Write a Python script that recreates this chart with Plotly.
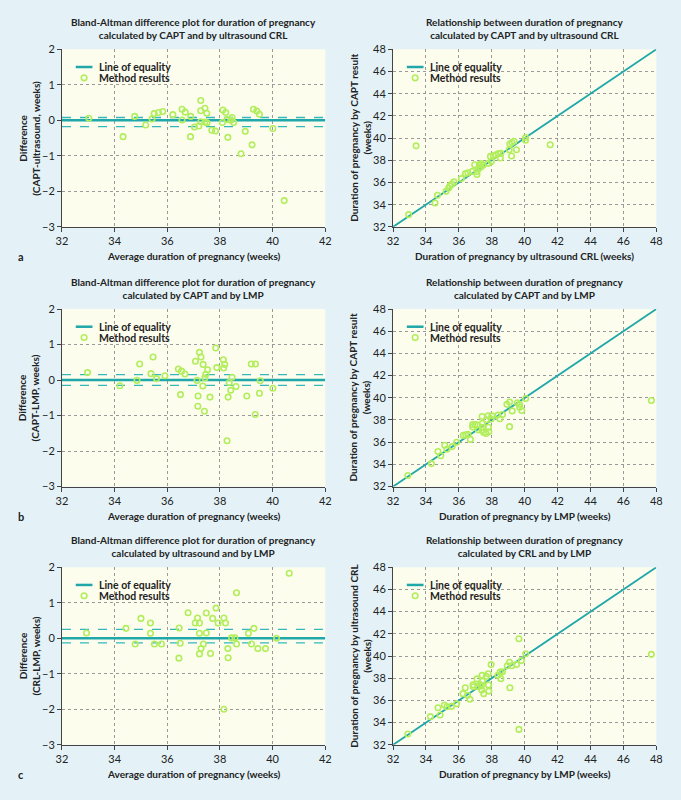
import plotly.graph_objects as go

# ---------------- data ----------------
# Panel a: CAPT vs ultrasound CRL
a_avg = [33.02, 34.32, 34.76, 35.18, 35.42, 35.50, 35.66, 35.83, 36.21, 36.56, 36.56, 36.68, 36.89, 36.88,
         37.03, 37.20, 37.27, 37.27, 37.27, 37.43, 37.43, 37.50, 37.51, 37.69, 37.83, 38.11, 38.22, 38.09,
         38.27, 38.30, 38.46, 38.41, 38.52, 38.80, 38.96, 39.22, 39.27, 39.40, 39.50, 40.01, 40.44]
a_diff = [0.06, -0.46, 0.11, -0.13, 0.04, 0.19, 0.22, 0.25, 0.16, 0.31, 0.01, 0.23, 0.11, -0.46,
          -0.19, -0.16, 0.56, 0.27, -0.04, 0.34, -0.05, 0.20, -0.07, -0.28, -0.30, 0.29, 0.22, -0.06,
          0.02, -0.48, 0.08, 0.00, -0.06, -0.94, -0.31, -0.69, 0.31, 0.26, 0.17, -0.23, -2.26]
a_limits = [0.08, -0.18]

a_crl = [32.95, 33.40, 34.55, 34.70, 35.22, 35.38, 35.45, 35.57, 35.70, 36.15, 36.40, 36.55, 36.82, 36.96,
         37.10, 37.10, 37.20, 37.24, 37.33, 37.37, 37.47, 37.78, 37.92, 37.97, 38.10, 38.25, 38.40, 38.55,
         38.52, 39.06, 39.10, 39.22, 39.35, 39.20, 39.50, 40.05, 40.05, 41.55]
a_capt = [33.10, 39.30, 34.15, 34.85, 35.20, 35.50, 35.70, 35.85, 36.05, 36.35, 36.80, 36.88, 37.00, 37.60,
          36.72, 36.98, 37.25, 37.60, 37.40, 37.70, 37.55, 37.72, 38.35, 37.90, 38.42, 38.50, 38.60, 38.62,
          38.20, 38.94, 39.47, 39.60, 39.72, 38.38, 38.95, 40.05, 39.80, 39.40]

# Panel b: CAPT vs LMP
b_avg = [32.97, 34.20, 34.95, 34.85, 35.38, 35.46, 35.59, 35.91, 36.42, 36.50, 36.54, 36.67, 37.07, 37.13,
         37.17, 37.16, 37.22, 37.28, 37.36, 37.46, 37.43, 37.35, 37.53, 37.41, 37.62, 37.84, 37.88, 38.13,
         38.18, 38.14, 38.46, 38.35, 38.41, 38.61, 38.31, 38.27, 39.02, 39.19, 39.35, 39.34, 39.53, 39.50, 40.01]
b_diff = [0.21, -0.16, 0.45, -0.01, 0.18, 0.65, 0.04, 0.12, 0.31, -0.41, 0.25, 0.17, 0.53, -0.01,
          -0.45, -0.74, 0.78, 0.65, 0.44, 0.16, 0.06, -0.17, 0.29, -0.88, -0.48, 0.90, 0.35, 0.57,
          0.44, 0.34, 0.08, -0.07, -0.29, -0.18, -0.48, -1.71, -0.45, 0.45, 0.45, -0.97, -0.02, -0.37, -0.23]
b_limits = [0.15, -0.15]

b_lmp = [32.90, 34.33, 34.73, 34.90, 35.14, 35.27, 35.59, 35.86, 36.27, 36.41, 36.55, 36.70, 36.84, 36.84,
         36.98, 37.12, 37.18, 37.41, 37.43, 37.45, 37.41, 37.51, 37.65, 37.67, 37.78, 37.80, 37.82, 38.00,
         37.96, 38.37, 38.49, 38.65, 38.92, 39.08, 39.08, 39.24, 39.55, 39.69, 39.69, 39.82, 40.06, 47.70]
b_capt = [33.00, 34.07, 35.16, 34.78, 35.72, 35.37, 35.60, 35.99, 36.61, 36.67, 36.70, 36.25, 37.58, 37.37,
          37.58, 37.55, 37.11, 38.32, 37.70, 37.35, 37.08, 36.87, 36.78, 38.02, 38.38, 37.35, 36.93, 38.38,
          38.08, 38.44, 38.11, 38.50, 39.41, 39.62, 37.40, 38.82, 39.56, 39.41, 39.14, 38.85, 39.94, 39.76]

# Panel c: ultrasound CRL vs LMP
c_avg = [32.93, 34.43, 34.78, 35.00, 35.36, 35.36, 35.51, 35.78, 36.44, 36.45, 36.49, 36.79, 37.06, 37.15,
         37.22, 37.22, 37.22, 37.28, 37.37, 37.48, 37.48, 37.64, 37.72, 37.85, 37.93, 38.15, 38.21, 38.30,
         38.31, 38.15, 38.44, 38.57, 38.63, 38.63, 39.08, 39.20, 39.29, 39.44, 39.73, 40.15, 40.63]
c_diff = [0.15, 0.28, -0.16, 0.56, 0.43, 0.14, -0.16, -0.16, -0.56, 0.29, -0.14, 0.72, 0.43, 0.57,
          0.43, 0.14, -0.44, -0.29, -0.16, 0.71, 0.15, -0.43, 0.56, 0.85, 0.43, 0.57, 0.43, -0.29,
          -0.55, -2.00, 0.01, 0.01, -0.16, 1.28, 0.14, -0.16, 0.28, -0.29, -0.29, 0.00, 1.83]
c_limits = [0.25, -0.13]

c_lmp = [32.90, 34.27, 34.73, 34.86, 35.12, 35.27, 35.55, 35.86, 36.25, 36.39, 36.53, 36.67, 36.86, 36.88,
         37.10, 37.16, 37.29, 37.37, 37.41, 37.43, 37.39, 37.51, 37.67, 37.78, 37.80, 37.82, 37.96, 38.37,
         38.51, 38.55, 38.65, 38.94, 39.08, 39.10, 39.22, 39.51, 39.65, 39.65, 39.80, 40.06, 47.70]
c_crl = [32.98, 34.54, 35.34, 34.69, 35.58, 35.43, 35.46, 35.69, 36.61, 37.14, 36.46, 36.11, 37.40, 37.23,
         37.94, 37.26, 37.43, 37.29, 38.26, 37.73, 36.93, 36.61, 38.17, 38.41, 37.40, 36.84, 39.23, 38.26,
         38.55, 37.96, 38.58, 39.12, 39.44, 37.14, 39.12, 39.23, 41.56, 33.39, 39.59, 40.20, 40.15]

ba_range_x = [32, 42]
ba_range_y = [-3, 2]
ba_ticks_x = [32, 34, 36, 38, 40, 42]
ba_ticks_y = [-3, -2, -1, 0, 1, 2]
rel_range = [32, 48]
rel_ticks = [32, 34, 36, 38, 40, 42, 44, 46, 48]

titles = [
    "Bland-Altman difference plot for duration of pregnancy<br>calculated by CAPT and by ultrasound CRL",
    "Relationship between duration of pregnancy<br>calculated by CAPT and by ultrasound CRL",
    "Bland-Altman difference plot for duration of pregnancy<br>calculated by CAPT and by LMP",
    "Relationship between duration of pregnancy<br>calculated by CAPT and by LMP",
    "Bland-Altman difference plot for duration of pregnancy<br>calculated by ultrasound and by LMP",
    "Relationship between duration of pregnancy<br>calculated by CRL and by LMP",
]
xtitles = [
    "Average duration of pregnancy (weeks)",
    "Duration of pregnancy by ultrasound CRL (weeks)",
    "Average duration of pregnancy (weeks)",
    "Duration of pregnancy by LMP (weeks)",
    "Average duration of pregnancy (weeks)",
    "Duration of pregnancy by LMP (weeks)",
]
ytitles = [
    "Difference<br>(CAPT-ultrasound, weeks)",
    "Duration of pregnancy by CAPT result<br>(weeks)",
    "Difference<br>(CAPT-LMP, weeks)",
    "Duration of pregnancy by CAPT result<br>(weeks)",
    "Difference<br>(CRL-LMP, weeks)",
    "Duration of pregnancy by ultrasound CRL<br>(weeks)",
]
legend_labels = ["Line of equality", "Method results"]
letters = ["a", "b", "c"]

# ---------------- style ----------------
W, H = 681, 800
FONT = "Liberation Sans Narrow, Lato, sans-serif"
TEAL = "#1fa7a9"
DASH = "#36b8bb"
GREEN = "#b2ee5c"
PAPER = "#e4f2f8"
PLOT = "#fdfdee"
GRID = "#9a9a9a"
AXIS = "#444444"
TXT = "#222222"
FS = 10

col_left = [57, 394]
plot_w = 268
row_top = [43, 307, 569.5]
plot_h = 180.5

panels = [
    ("ba", a_avg, a_diff, a_limits),
    ("rel", a_crl, a_capt, None),
    ("ba", b_avg, b_diff, b_limits),
    ("rel", b_lmp, b_capt, None),
    ("ba", c_avg, c_diff, c_limits),
    ("rel", c_lmp, c_crl, None),
]

fig = go.Figure()
annotations = []
shapes = []
layout_axes = {}


def px(xp):
    return xp / W


def py(yp):
    return 1 - yp / H


for i, (kind, xs, ys, limits) in enumerate(panels):
    n = i + 1
    r, c = divmod(i, 2)
    left = col_left[c]
    top = row_top[r]
    xd = [px(left), px(left + plot_w)]
    yd = [py(top + plot_h), py(top)]
    xa = "x" if n == 1 else f"x{n}"
    ya = "y" if n == 1 else f"y{n}"

    if kind == "ba":
        rx, ry, tx, ty = ba_range_x, ba_range_y, ba_ticks_x, ba_ticks_y
        fig.add_trace(go.Scatter(x=rx, y=[0, 0], mode="lines", name=legend_labels[0], showlegend=False,
                                 line=dict(color=TEAL, width=2.5), xaxis=xa, yaxis=ya))
        for lim in limits:
            fig.add_trace(go.Scatter(x=rx, y=[lim, lim], mode="lines", showlegend=False,
                                     line=dict(color=DASH, width=1.3, dash="dash"),
                                     xaxis=xa, yaxis=ya, hoverinfo="skip"))
    else:
        rx, ry, tx, ty = rel_range, rel_range, rel_ticks, rel_ticks
        fig.add_trace(go.Scatter(x=rel_range, y=rel_range, mode="lines", name=legend_labels[0],
                                 showlegend=False, line=dict(color=TEAL, width=1.8), xaxis=xa, yaxis=ya))

    fig.add_trace(go.Scatter(x=xs, y=ys, mode="markers", name=legend_labels[1], showlegend=False,
                             marker=dict(symbol="circle-open", size=5.5, color=GREEN, line=dict(width=1.6)),
                             xaxis=xa, yaxis=ya))

    axcommon = dict(showline=True, linecolor=AXIS, linewidth=1, ticks="outside", ticklen=4,
                    tickcolor=AXIS, showgrid=True, gridcolor=GRID, griddash="dot", gridwidth=1,
                    zeroline=False, tickfont=dict(family=FONT, size=11, color=TXT), mirror=False)
    layout_axes["xaxis" if n == 1 else f"xaxis{n}"] = dict(domain=xd, range=rx, tickvals=tx,
                                                           anchor=ya, **axcommon)
    layout_axes["yaxis" if n == 1 else f"yaxis{n}"] = dict(domain=yd, range=ry, tickvals=ty,
                                                           anchor=xa, **axcommon)

    # legend (drawn inside the plot, upper left)
    ly1 = top + 18
    ly2 = top + 29
    shapes.append(dict(type="line", xref="paper", yref="paper", x0=px(left + 14), x1=px(left + 31),
                       y0=py(ly1), y1=py(ly1), line=dict(color=TEAL, width=2.5)))
    shapes.append(dict(type="circle", xref="paper", yref="paper", xsizemode="pixel", ysizemode="pixel",
                       xanchor=px(left + 22.5), yanchor=py(ly2), x0=-2.8, x1=2.8, y0=-2.8, y1=2.8,
                       line=dict(color=GREEN, width=1.6)))
    for lab, yy in zip(legend_labels, [ly1, ly2]):
        annotations.append(dict(text="<b>" + lab + "</b>", x=px(left + 36), y=py(yy),
                                xref="paper", yref="paper", xanchor="left", yanchor="middle",
                                showarrow=False, font=dict(family=FONT, size=FS + 0.5, color=TXT)))

    cx = px(left + plot_w / 2)
    # title
    annotations.append(dict(text="<b>" + titles[i] + "</b>", x=cx, y=py(top - 6),
                            xref="paper", yref="paper", xanchor="center", yanchor="bottom",
                            showarrow=False, font=dict(family=FONT, size=FS, color=TXT)))
    # x title
    annotations.append(dict(text="<b>" + xtitles[i] + "</b>", x=cx, y=py(top + plot_h + 30),
                            xref="paper", yref="paper", xanchor="center", yanchor="middle",
                            showarrow=False, font=dict(family=FONT, size=FS, color=TXT)))
    # y title
    annotations.append(dict(text="<b>" + ytitles[i] + "</b>", x=px(left - 34),
                            y=py(top + plot_h / 2), xref="paper", yref="paper",
                            xanchor="center", yanchor="middle", textangle=-90,
                            showarrow=False, font=dict(family=FONT, size=FS, color=TXT)))
    if c == 0:
        annotations.append(dict(text="<b>" + letters[r] + "</b>", x=px(15),
                                y=py(top + plot_h + 30), xref="paper", yref="paper",
                                xanchor="center", yanchor="middle", showarrow=False,
                                font=dict(family=FONT, size=11, color=TXT)))

fig.update_layout(width=W, height=H, margin=dict(l=0, r=0, t=0, b=0), showlegend=False,
                  paper_bgcolor=PAPER, plot_bgcolor=PLOT, annotations=annotations, shapes=shapes,
                  **layout_axes)

fig.write_html("out.html", config={"displayModeBar": False},
               post_script="document.body.style.margin='0';document.body.style.background='%s';" % PAPER)
